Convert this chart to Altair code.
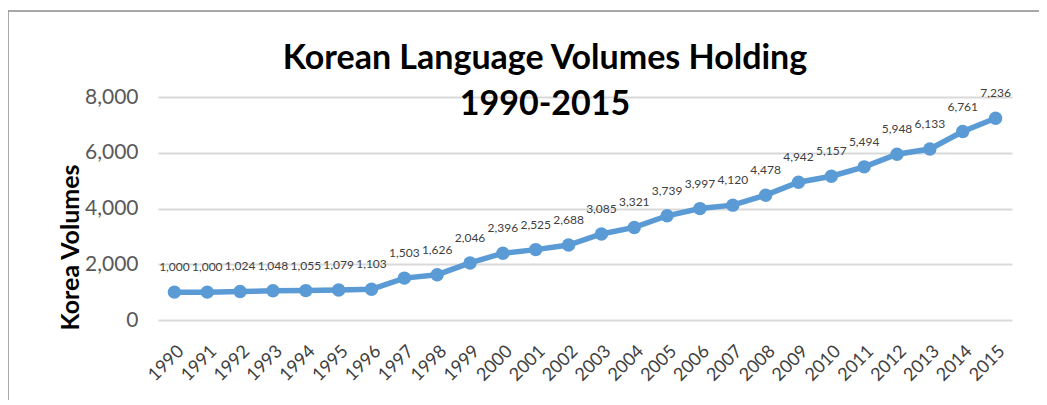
import altair as alt
import pandas as pd

years = [str(y) for y in range(1990, 2016)]
volumes = [1000, 1000, 1024, 1048, 1055, 1079, 1103, 1503, 1626, 2046, 2396, 2525, 2688,
           3085, 3321, 3739, 3997, 4120, 4478, 4942, 5157, 5494, 5948, 6133, 6761, 7236]
title_lines = ["Korean Language Volumes Holding", "1990-2015"]
y_title = "Korea Volumes"

df = pd.DataFrame({"year": years, "volumes": volumes})

W, H = 854, 223
BLUE = "#5B9BD5"

base = alt.Chart(df).encode(
    x=alt.X("year:O", sort=years,
            scale=alt.Scale(type="point", padding=0.5),
            axis=alt.Axis(title=None, labelAngle=-45, labelFontSize=18, labelFont="Lato",
                          labelColor="#404040", domain=False, ticks=False, labelPadding=22,
                          grid=False)),
    y=alt.Y("volumes:Q", scale=alt.Scale(domain=[0, 8000], nice=False),
            axis=alt.Axis(values=[0, 2000, 4000, 6000, 8000], format=",.0f", title=y_title,
                          labelFontSize=21, labelFont="Lato", labelColor="#595959",
                          labelPadding=20, domain=False, ticks=False,
                          gridColor="#D9D9D9", gridWidth=2,
                          titleFont="Lato", titleFontSize=25, titleFontWeight="bold",
                          titleColor="black", titleAnchor="start", titleAngle=-90,
                          titleX=-88, titleY=233, titleAlign="left", titleBaseline="middle")),
)

line = base.mark_line(color=BLUE, strokeWidth=5.5)
pts = base.mark_circle(color=BLUE, size=180, opacity=1)
labels = base.mark_text(dy=-25, fontSize=12, font="Lato", color="#404040").encode(
    text=alt.Text("volumes:Q", format=",")
)

border = alt.Chart(pd.DataFrame({"a": [0]})).mark_rect(
    fill=None, stroke="#8c8c8c", strokeWidth=1.5
).encode(x=alt.value(-150), x2=alt.value(W + 60), y=alt.value(-86), y2=alt.value(H + 120))

chart = alt.layer(border, line, pts, labels).properties(
    width=W, height=H,
    autosize=alt.AutoSizeParams(type="none"),
    padding={"left": 150, "top": 89, "right": 27, "bottom": 80},
    title=alt.TitleParams(title_lines, fontSize=34, font="Lato", fontWeight="bold",
                          color="black", anchor="middle", dx=-40, offset=-112,
                          lineHeight=46),
).configure_view(stroke=None)

chart.save("out.html", embed_options={"renderer": "svg", "actions": False})
